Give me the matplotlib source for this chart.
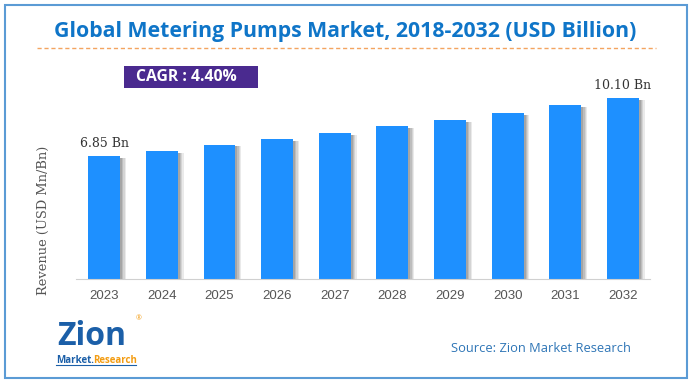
import matplotlib
matplotlib.use("Agg")
import matplotlib.pyplot as plt
from matplotlib.patches import Rectangle

years = ["2023", "2024", "2025", "2026", "2027", "2028", "2029", "2030", "2031", "2032"]
revenue = [6.85, 7.14, 7.49, 7.81, 8.14, 8.53, 8.87, 9.26, 9.70, 10.10]
labels = {0: "6.85 Bn", 9: "10.10 Bn"}
title = "Global Metering Pumps Market, 2018-2032 (USD Billion)"
cagr = "CAGR : 4.40%"
ylabel = "Revenue (USD Mn/Bn)"
source = "Source: Zion Market Research"

sans = "Open Sans"

W, H = 692, 385
fig = plt.figure(figsize=(W / 100, H / 100), dpi=100)
fig.patch.set_facecolor("white")

def fx(px):
    return px / W

def fy(py):
    return 1 - py / H

# outer frame
fig.add_artist(Rectangle((fx(5), fy(378)), fx(682), 373 / H, transform=fig.transFigure,
                         fill=False, edgecolor="#5B9BD5", linewidth=1.5))

# title
fig.text(fx(345), fy(31), title, ha="center", va="center", fontsize=15.3, fontweight="bold",
         color="#0F75C8", family=sans)
# dashed line
fig.add_artist(plt.Line2D([fx(37), fx(656)], [fy(48), fy(48)], transform=fig.transFigure,
                          color="#F4A460", linestyle=(0, (3, 2)), linewidth=1))
# CAGR box
fig.add_artist(Rectangle((fx(124), fy(88)), fx(134), 22 / H, transform=fig.transFigure,
                         facecolor="#4A2A8F", edgecolor="none"))
fig.text(fx(186), fy(77), cagr, ha="center", va="center", fontsize=11.3, fontweight="bold",
         color="white", family=sans)

# axes
left, right, top, bottom = 76, 650, 60, 279
ax = fig.add_axes([fx(left), fy(bottom), fx(right - left), (bottom - top) / H])
scale = 17.93
ax.set_ylim(0, (bottom - top) / scale)
ax.set_xlim(-0.49, 9.47)
x = list(range(len(years)))
bw = 0.555
# shadow layers
for k, a in enumerate([0.10, 0.12, 0.15, 0.18]):
    off = 0.10 - 0.022 * k
    ax.bar([i + off for i in x], [v - 0.1 for v in revenue], width=bw, color="#3a3a3a",
           alpha=a, linewidth=0, zorder=1)
ax.bar(x, revenue, width=bw, color="#1E90FF", linewidth=0, zorder=2)
for i, t in labels.items():
    ax.text(i, revenue[i] + 0.35, t, ha="center", va="bottom", fontsize=9,
            family="DejaVu Serif", color="#333333")
for s in ["top", "right", "left"]:
    ax.spines[s].set_visible(False)
ax.spines["bottom"].set_color("#D0D0D0")
ax.set_yticks([])
ax.set_xticks(x)
ax.set_xticklabels(years, fontsize=9.5, color="#555555", family="Liberation Sans")
ax.tick_params(axis="x", length=0, pad=8)
ax.patch.set_alpha(0)

fig.text(fx(43), fy(220), ylabel, rotation=90, ha="center", va="center", fontsize=9.4,
         family="DejaVu Serif", color="#555555")

fig.text(fx(541), fy(348), source, ha="center", va="center", fontsize=9.3,
         color="#2E75B6", family=sans)

# logo
fig.text(fx(57), fy(345), "Zion", ha="left", va="baseline", fontsize=23, fontweight="bold",
         color="#1B5FA8", family=sans)
fig.text(fx(136), fy(320), "®", ha="left", va="baseline", fontsize=5,
         color="#F39C12", family=sans)
fig.text(fx(56), fy(363), "Market.", ha="left", va="baseline", fontsize=7, fontweight="bold",
         color="#1B5FA8", family=sans)
fig.text(fx(93), fy(363), "Research", ha="left", va="baseline", fontsize=7, fontweight="bold",
         color="#F39C12", family=sans)
fig.add_artist(plt.Line2D([fx(56), fx(136)], [fy(365), fy(365)], transform=fig.transFigure,
                          color="#1B5FA8", linewidth=0.8))

fig.savefig("out.png", dpi=100)
